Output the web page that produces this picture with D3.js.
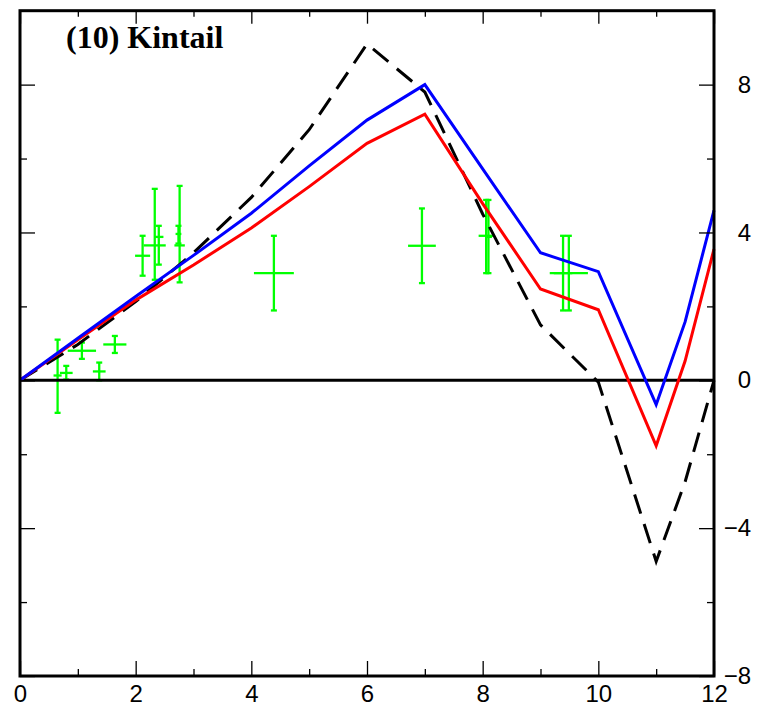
<!DOCTYPE html>
<html>
<head>
<meta charset="utf-8">
<script src="https://cdn.jsdelivr.net/npm/d3@7"></script>
<style>
  html, body { margin: 0; padding: 0; background: #fff; }
  svg { display: block; }
</style>
</head>
<body>
<svg id="chart" width="757" height="707"></svg>
<script>
// ---- data ----
const titleText = "(10) Kintail";

const blueX  = [0, 1, 2, 3, 4, 5, 6, 7, 8, 9, 10, 11, 11.5, 12];
const blueY  = [0, 1.14, 2.27, 3.38, 4.52, 5.8, 7.04, 8.0, 5.72, 3.45, 2.94, -0.66, 1.58, 4.6];

const redX   = [0, 1, 2, 3, 4, 5, 6, 7, 8, 9, 10, 11, 11.5, 12];
const redY   = [0, 1.1, 2.17, 3.12, 4.12, 5.24, 6.41, 7.2, 4.78, 2.47, 1.91, -1.77, 0.52, 3.55];

const blackX = [0, 1, 2, 3, 4, 5, 6, 7, 8, 9, 10, 11, 11.5, 12];
const blackY = [0, 0.97, 2.13, 3.45, 4.95, 6.78, 9.1, 7.8, 4.5, 1.5, -0.05, -4.9, -2.75, 0];

const obsX    = [0.65, 0.80, 1.07, 1.37, 1.64, 2.12, 2.33, 2.40, 2.76, 2.74, 4.39, 6.95, 8.06, 8.10, 9.39, 9.49];
const obsY    = [0.13, 0.20, 0.80, 0.24, 0.97, 3.37, 3.65, 3.88, 3.65, 3.96, 2.90, 3.64, 3.91, 3.88, 2.90, 2.90];
const obsXErr = [0.07, 0.11, 0.245, 0.11, 0.20, 0.13, 0.19, 0.08, 0.09, 0.05, 0.345, 0.24, 0.13, 0.06, 0.16, 0.33];
const obsYHi  = [1.10, 0.39, 1.02, 0.48, 1.20, 3.91, 5.18, 4.18, 5.26, 4.18, 3.91, 4.65, 4.88, 4.88, 3.91, 3.91];
const obsYLo  = [-0.88, 0.02, 0.58, 0.00, 0.74, 2.83, 2.72, 3.13, 2.65, 3.70, 1.89, 2.63, 2.90, 2.90, 1.89, 1.89];

const xMajorTicks = [0, 2, 4, 6, 8, 10, 12];
const xMinorTicks = [1, 3, 5, 7, 9, 11];
const yMajorTicks = [-8, -4, 0, 4, 8];
const yMinorTicks = [-6, -2, 2, 6];

// ---- layout ----
const svg = d3.select("#chart");
const L = 20, R = 714, T = 10.7, B = 676;
const x = d3.scaleLinear().domain([0, 12]).range([L, R]);
const y = d3.scaleLinear().domain([-8, 10]).range([B, T]);

const fontSans = "'Liberation Sans', Arial, Helvetica, sans-serif";

// error bars (observations)
const obs = obsX.map((v, i) => ({x: v, y: obsY[i], xe: obsXErr[i], hi: obsYHi[i], lo: obsYLo[i]}));
const gObs = svg.append("g").attr("stroke", "#00ff00").attr("stroke-width", 2.3).attr("fill", "none");
obs.forEach(d => {
  const g = gObs.append("g");
  g.append("line").attr("x1", x(d.x)).attr("x2", x(d.x)).attr("y1", y(d.hi)).attr("y2", y(d.lo));
  g.append("line").attr("x1", x(d.x) - 3).attr("x2", x(d.x) + 3).attr("y1", y(d.hi)).attr("y2", y(d.hi));
  g.append("line").attr("x1", x(d.x) - 3).attr("x2", x(d.x) + 3).attr("y1", y(d.lo)).attr("y2", y(d.lo));
  g.append("line").attr("x1", x(d.x - d.xe)).attr("x2", x(d.x + d.xe)).attr("y1", y(d.y)).attr("y2", y(d.y));
});

// zero line
svg.append("line")
  .attr("x1", x(0)).attr("x2", x(12)).attr("y1", y(0)).attr("y2", y(0))
  .attr("stroke", "#000").attr("stroke-width", 3);

// series lines
const line = d3.line().x(d => x(d[0])).y(d => y(d[1]));
function drawSeries(xs, ys, color, dash) {
  const p = svg.append("path")
    .datum(xs.map((v, i) => [v, ys[i]]))
    .attr("d", line)
    .attr("fill", "none")
    .attr("stroke", color)
    .attr("stroke-width", 3)
    .attr("stroke-linejoin", "miter");
  if (dash) p.attr("stroke-dasharray", dash);
}
drawSeries(blackX, blackY, "#000", "20,11");
drawSeries(redX, redY, "#ff0000");
drawSeries(blueX, blueY, "#0000ff");

// axes (ticks pointing inward)
function styleAxis(g) {
  g.select(".domain").remove();
  g.selectAll(".tick line").attr("stroke", "#000").attr("stroke-width", 1.3);
  g.selectAll("text").attr("fill", "#000").style("font-family", fontSans).style("font-size", "24px");
}
// bottom
svg.append("g").attr("transform", `translate(0,${B})`)
  .call(d3.axisBottom(x).tickValues(xMajorTicks).tickSize(-15).tickPadding(9).tickFormat(d3.format("d")))
  .call(styleAxis);
svg.append("g").attr("transform", `translate(0,${B})`)
  .call(d3.axisBottom(x).tickValues(xMinorTicks).tickSize(-7).tickFormat(""))
  .call(styleAxis);
// top
svg.append("g").attr("transform", `translate(0,${T})`)
  .call(d3.axisTop(x).tickValues(xMajorTicks).tickSize(-13).tickFormat(""))
  .call(styleAxis);
svg.append("g").attr("transform", `translate(0,${T})`)
  .call(d3.axisTop(x).tickValues(xMinorTicks).tickSize(-6).tickFormat(""))
  .call(styleAxis);
// left
svg.append("g").attr("transform", `translate(${L},0)`)
  .call(d3.axisLeft(y).tickValues(yMajorTicks).tickSize(-15).tickFormat(""))
  .call(styleAxis);
svg.append("g").attr("transform", `translate(${L},0)`)
  .call(d3.axisLeft(y).tickValues(yMinorTicks).tickSize(-7).tickFormat(""))
  .call(styleAxis);
// right (labels)
const minusFmt = d => (d < 0 ? "\u2212" + Math.abs(d) : String(d));
const gRight = svg.append("g").attr("transform", `translate(${R},0)`)
  .call(d3.axisRight(y).tickValues(yMajorTicks).tickSize(-15).tickFormat(minusFmt))
  .call(styleAxis);
gRight.selectAll("text").attr("x", 37).attr("text-anchor", "end");
svg.append("g").attr("transform", `translate(${R},0)`)
  .call(d3.axisRight(y).tickValues(yMinorTicks).tickSize(-7).tickFormat(""))
  .call(styleAxis);

// frame
svg.append("rect")
  .attr("x", L).attr("y", T).attr("width", R - L).attr("height", B - T)
  .attr("fill", "none").attr("stroke", "#000").attr("stroke-width", 3);

// title
svg.append("text")
  .attr("x", 66).attr("y", 48)
  .style("font-family", "'Liberation Serif', 'Times New Roman', Times, serif")
  .style("font-weight", "bold")
  .style("font-size", "32px")
  .attr("fill", "#000")
  .text(titleText);
</script>
</body>
</html>
